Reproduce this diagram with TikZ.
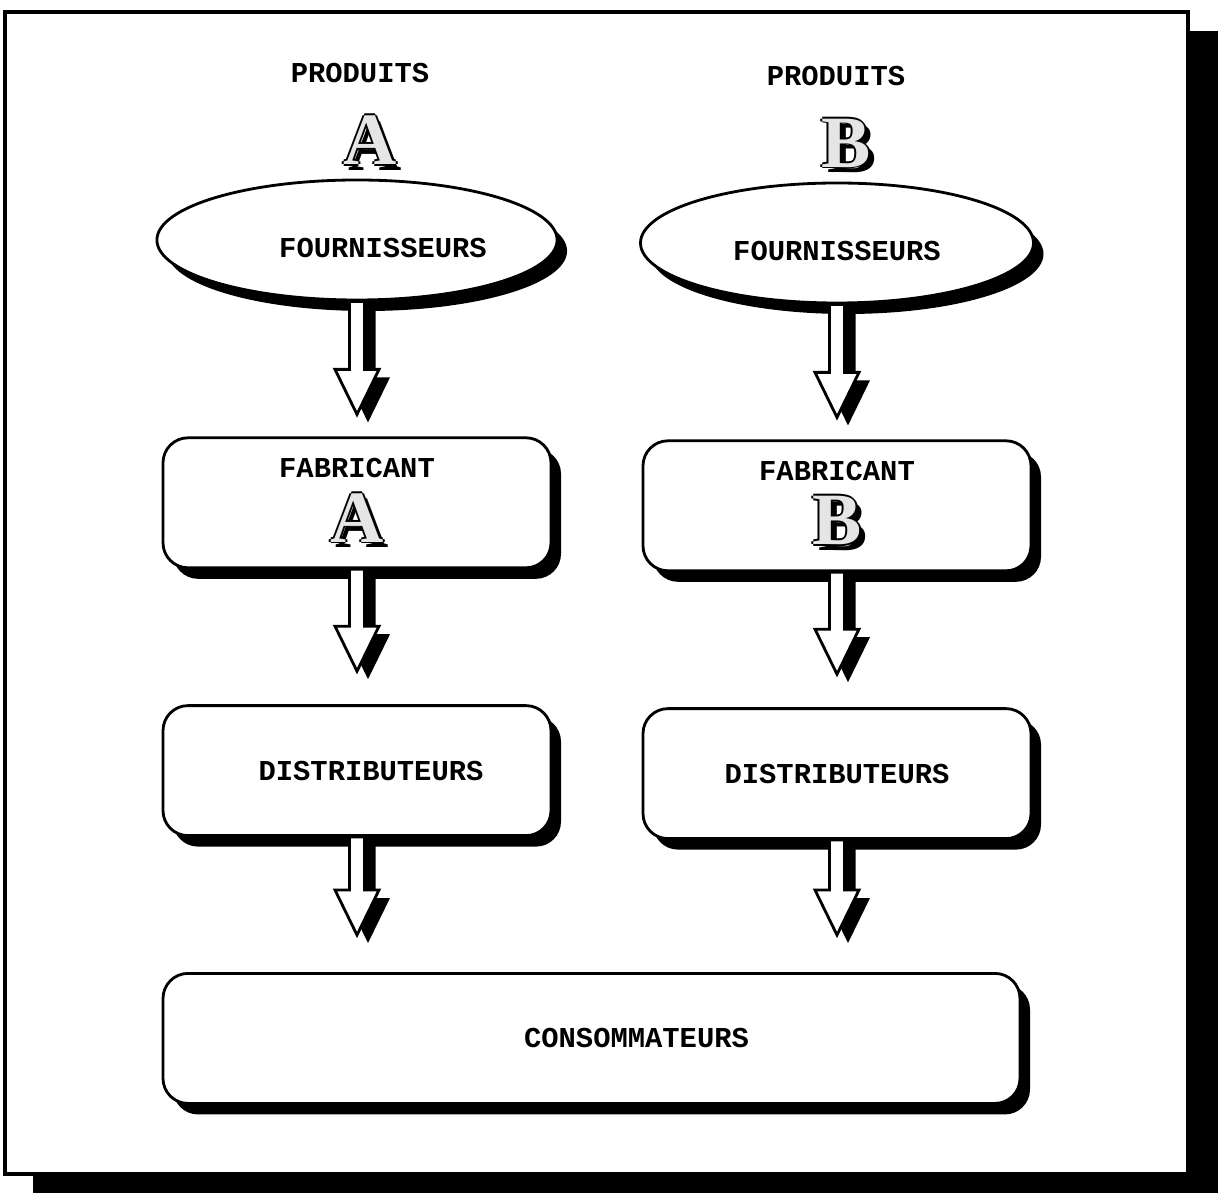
\documentclass[tikz,border=0pt]{standalone}
\usepackage{fontspec}
\setmonofont{Liberation Mono}
\newfontfamily\capfont{Liberation Serif}
\usetikzlibrary{positioning,shapes.geometric,shadows,calc}

% big outlined letter with a shadow
\newcommand\hollow[1]{{\capfont\bfseries\fontsize{21}{21}\selectfont
  \rlap{\hspace{1.6pt}\raisebox{-1.6pt}{#1}}%
  \rlap{\hspace{.5pt}#1}\rlap{\hspace{-.5pt}#1}%
  \rlap{\raisebox{.5pt}{#1}}\rlap{\raisebox{-.5pt}{#1}}%
  \textcolor{black!10}{#1}}}

\begin{document}
\begin{tikzpicture}[
    node distance=1.35cm,
    lbl/.style={font=\ttfamily\bfseries\fontsize{8.2}{10}\selectfont},
    shade/.style={drop shadow={shadow xshift=0.1cm, shadow yshift=-0.11cm, fill=black, opacity=1}},
    ellip/.style={ellipse, draw, line width=0.8pt, fill=white, minimum width=3.93cm, minimum height=1.2cm, shade, lbl},
    box/.style={rectangle, rounded corners=0.25cm, draw, line width=0.8pt, fill=white, minimum width=3.88cm, minimum height=1.3cm, align=center, shade, lbl},
    blockarrow/.style={draw, line width=0.8pt, fill=white,
        drop shadow={shadow xshift=0.11cm, shadow yshift=-0.08cm, fill=black, opacity=1},
        to path={($(\tikztostart)+(-.075,0)$) -- ($(\tikztostart |- \tikztotarget)+(-.075,#1+.45)$)
            -- ($(\tikztostart |- \tikztotarget)+(-.22,#1+.45)$) -- ($(\tikztostart |- \tikztotarget)+(0,#1)$)
            -- ($(\tikztostart |- \tikztotarget)+(.22,#1+.45)$) -- ($(\tikztostart |- \tikztotarget)+(.075,#1+.45)$)
            -- ($(\tikztostart)+(.075,0)$) -- cycle}},
    blockarrow/.default=0.33,
]
    \useasboundingbox (0,0) rectangle (12.2,-11.93);
    % frame
    \fill (0.33,-0.31) rectangle (12.18,-11.93);
    \draw[line width=1pt, fill=white] (0.05,-0.12) rectangle (11.88,-11.74);

    \node[lbl] (proda) at (3.6,-0.73) {PRODUITS};
    \node[lbl] (prodb) at (8.36,-0.76) {PRODUITS};
    \node (leta) at (3.7,-1.42) {\hollow{A}};
    \node (letb) at (8.46,-1.45) {\hollow{B}};

    \node[ellip] (foua) at (3.57,-2.4) {\raisebox{-5pt}[0pt][0pt]{\hspace*{.52cm}FOURNISSEURS}};
    \node[ellip] (foub) at (8.37,-2.43) {\raisebox{-5pt}[0pt][0pt]{FOURNISSEURS}};
    \node[box, below=of foua] (faba) {FABRICANT\\[3pt]\hollow{A}};
    \node[box, below=of foub] (fabb) {FABRICANT\\[3pt]\hollow{B}};
    \node[box, below=of faba] (dista) {\hspace*{.28cm}DISTRIBUTEURS};
    \node[box, below=of fabb] (distb) {DISTRIBUTEURS};
    \node[box, minimum width=8.57cm, below=of dista.south west, anchor=north west] (cons) {\hspace*{.9cm}CONSOMMATEURS};

    \draw[blockarrow=0.22] (foua.south) to (faba.north);
    \draw[blockarrow=0.22] (foub.south) to (fabb.north);
    \draw[blockarrow] (faba.south) to (dista.north);
    \draw[blockarrow] (fabb.south) to (distb.north);
    \draw[blockarrow=0.37] (dista.south) to (cons.north);
    \draw[blockarrow=0.37] (distb.south) to (cons.north);
\end{tikzpicture}
\end{document}
